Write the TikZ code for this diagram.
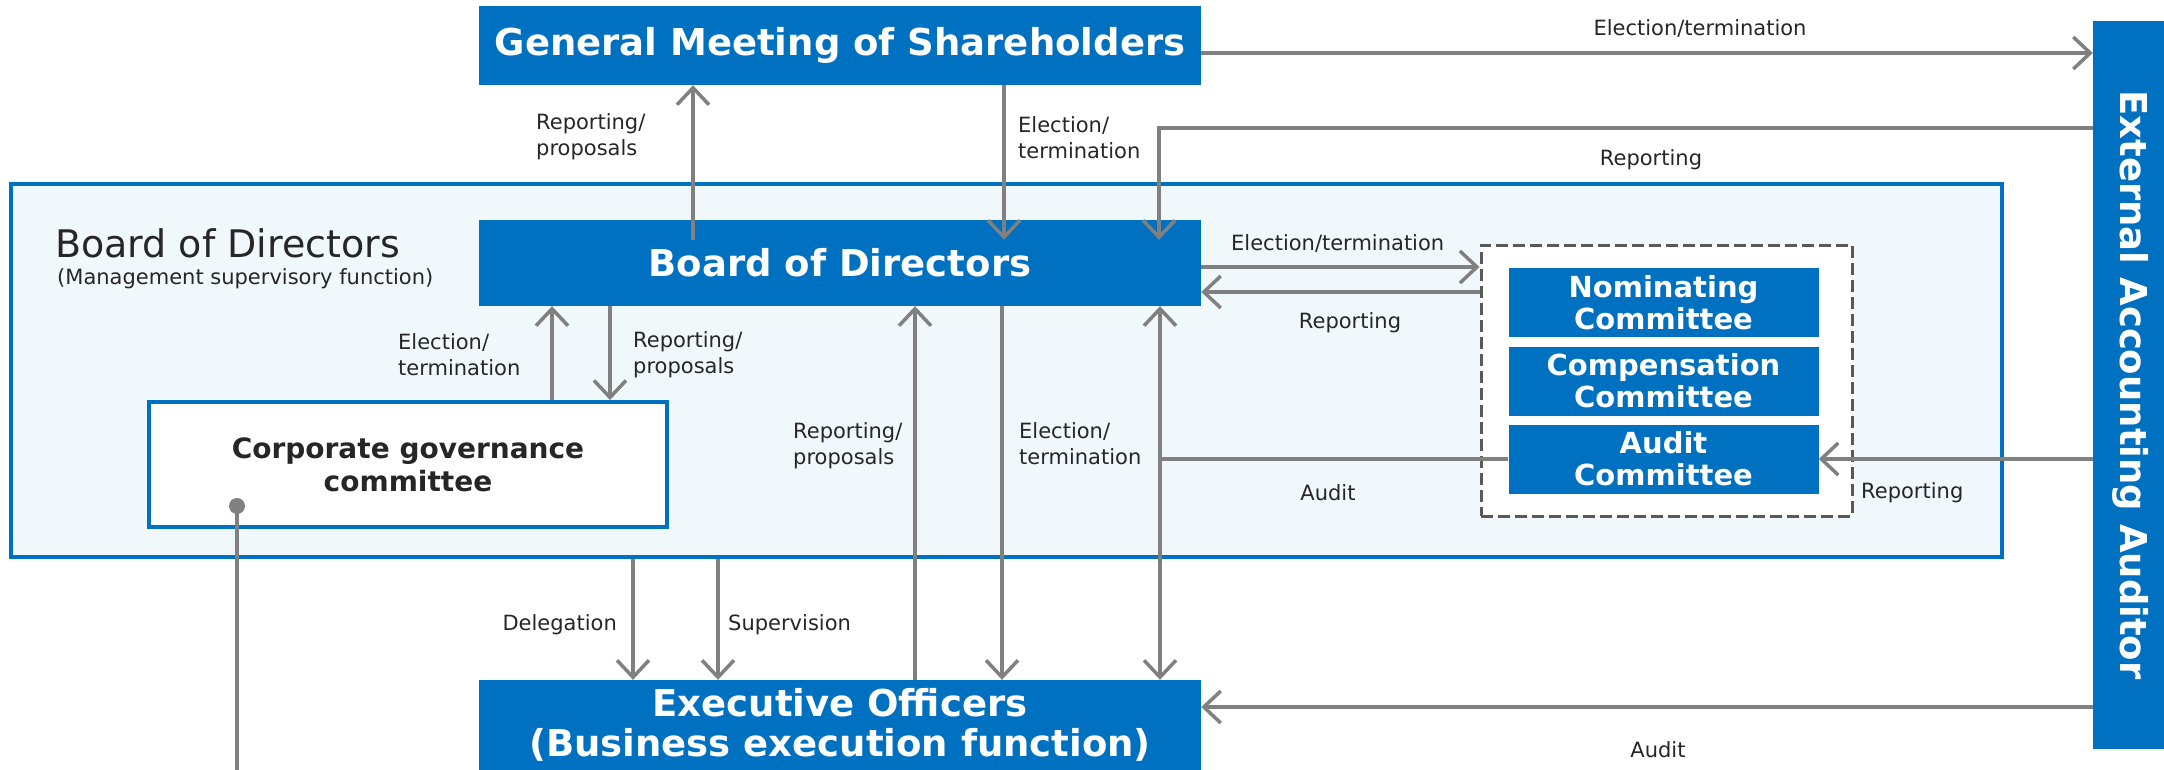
\documentclass[tikz,border=0pt]{standalone}
\usepackage{fontspec}
\setmainfont{DejaVu Sans}
\usepackage{tikz}
\usetikzlibrary{arrows.meta,calc,positioning}
\definecolor{CorpBlue}{RGB}{0,112,192}
\definecolor{BoardTint}{RGB}{241,248,252}
\definecolor{LinkGray}{RGB}{128,128,128}
\definecolor{DashGray}{RGB}{89,89,89}
\definecolor{InkGray}{RGB}{38,38,38}

\tikzset{
  barb/.tip={Straight Barb[length=17pt,width=32pt]},
  bluebox/.style={fill=CorpBlue,text=white,inner sep=0pt,align=center,
    font=\bfseries\fontsize{37}{40}\selectfont},
  cmtbox/.style={bluebox,minimum width=310pt,minimum height=69pt,
    font=\bfseries\fontsize{29}{32}\selectfont},
  lbl/.style={text=InkGray,inner sep=0pt,align=left,
    font=\fontsize{21}{26}\selectfont},
  link/.style={draw=LinkGray,line width=3.5pt,-barb},
}

\begin{document}
\begin{tikzpicture}[x=1pt,y=-1pt]
      \useasboundingbox (0,0) rectangle (2164,769);
      \clip (0,0) rectangle (2164,769);

      \node[draw=CorpBlue,fill=BoardTint,line width=3.5pt,inner sep=0pt,
        minimum width=1991pt,minimum height=373pt] (board) at (1006.5,370.5) {};
      \node[lbl,anchor=west,font=\fontsize{38}{40}\selectfont] (boardtitle)
        at (55,243) {Board of Directors};
      \node[lbl,anchor=west] (boardsub) at (57,279) {(Management supervisory function)};

      \node[bluebox,minimum width=722pt,minimum height=79pt] (gms) at (840,45.5)
        {General Meeting of Shareholders};
      \node[bluebox,minimum width=722pt,minimum height=86pt] (bod) at (840,263)
        {Board of Directors};
      \node[bluebox,minimum width=722pt,minimum height=90pt] (exec) at (840,725)
        {Executive Officers\\(Business execution function)};
      \node[bluebox,rotate=-90,minimum width=728pt,minimum height=76pt] (eaa)
        at (2131,385) {External Accounting Auditor};
      \node[draw=CorpBlue,fill=white,line width=4pt,minimum width=518pt,
        minimum height=125pt,text=InkGray,align=center,
        font=\bfseries\fontsize{28}{33}\selectfont] (cgc) at (408,464.5)
        {Corporate governance\\committee};

      \node[draw=DashGray,fill=white,line width=3pt,dash pattern=on 12pt off 5pt,
        minimum width=371pt,minimum height=271pt] (cmte) at (1666.5,380.5) {};
      \node[cmtbox] (nom) at (1663.5,302.5) {Nominating\\Committee};
      \node[cmtbox] (comp) at (1663.5,381) {Compensation\\Committee};
      \node[cmtbox] (aud) at (1663.5,459) {Audit\\Committee};

      \coordinate (bodin) at ([yshift=-20pt]bod.north);
      \coordinate (cgcdot) at (237,506);

      \draw[link] (gms.east |- 0,53) -- (eaa.south |- 0,53);
      \draw[link] (eaa.south |- 0,128) -| (bodin -| 1159,0);
      \draw[link] (bodin -| 693,0) -- (gms.south -| 693,0);
      \draw[link] (gms.south -| 1004,0) -- (bodin -| 1004,0);
      \draw[link] (cgc.north -| 552,0) -- (bod.south -| 552,0);
      \draw[link] (bod.south -| 610,0) -- (cgc.north -| 610,0);
      \draw[link] (exec.north -| 915,0) -- (bod.south -| 915,0);
      \draw[link] (bod.south -| 1002,0) -- (exec.north -| 1002,0);
      \draw[link,barb-barb] (bod.south -| 1160,0) -- (exec.north -| 1160,0);
      \draw[link,-] (aud.west) -- (aud.west -| 1160,0);
      \draw[link] (bod.east |- 0,267) -- (cmte.west |- 0,267);
      \draw[link] (cmte.west |- 0,292) -- (bod.east |- 0,292);
      \draw[link] (eaa.south |- aud.east) -- (aud.east);
      \draw[link] (board.south -| 633,0) -- (exec.north -| 633,0);
      \draw[link] (board.south -| 718,0) -- (exec.north -| 718,0);
      \draw[link] (eaa.south |- 0,707) -- (exec.east |- 0,707);
      \fill[LinkGray] (cgcdot) circle (8pt);
      \draw[link,-] (cgcdot) -- (cgcdot |- 0,780);

      \node[lbl] (gmsaud) at (1700,28) {Election/termination};
      \node[lbl] (audbod) at (1651,160) {Reporting};
      \node[lbl,anchor=west] (bodgms) at (536,137) {Reporting/\\proposals};
      \node[lbl,anchor=west] (gmsbod) at (1018,138) {Election/\\termination};
      \node[lbl,anchor=west] (cgcbod) at (398,355) {Election/\\termination};
      \node[lbl,anchor=west] (bodcgc) at (633,355) {Reporting/\\proposals};
      \node[lbl,anchor=west] (execbod) at (793,446) {Reporting/\\proposals};
      \node[lbl,anchor=west] (bodexec) at (1019,444) {Election/\\termination};
      \node[lbl,anchor=west] (bodcmte) at (1231,243) {Election/termination};
      \node[lbl] (cmtebod) at (1350,323) {Reporting};
      \node[lbl] (audexec) at (1328,493) {Audit};
      \node[lbl,anchor=west] (audcmte) at (1861,493) {Reporting};
      \node[lbl,anchor=east] (deleg) at (617,625) {Delegation};
      \node[lbl,anchor=west] (superv) at (728,625) {Supervision};
      \node[lbl] (audaudit) at (1658,750) {Audit};
    \end{tikzpicture}
\end{document}
